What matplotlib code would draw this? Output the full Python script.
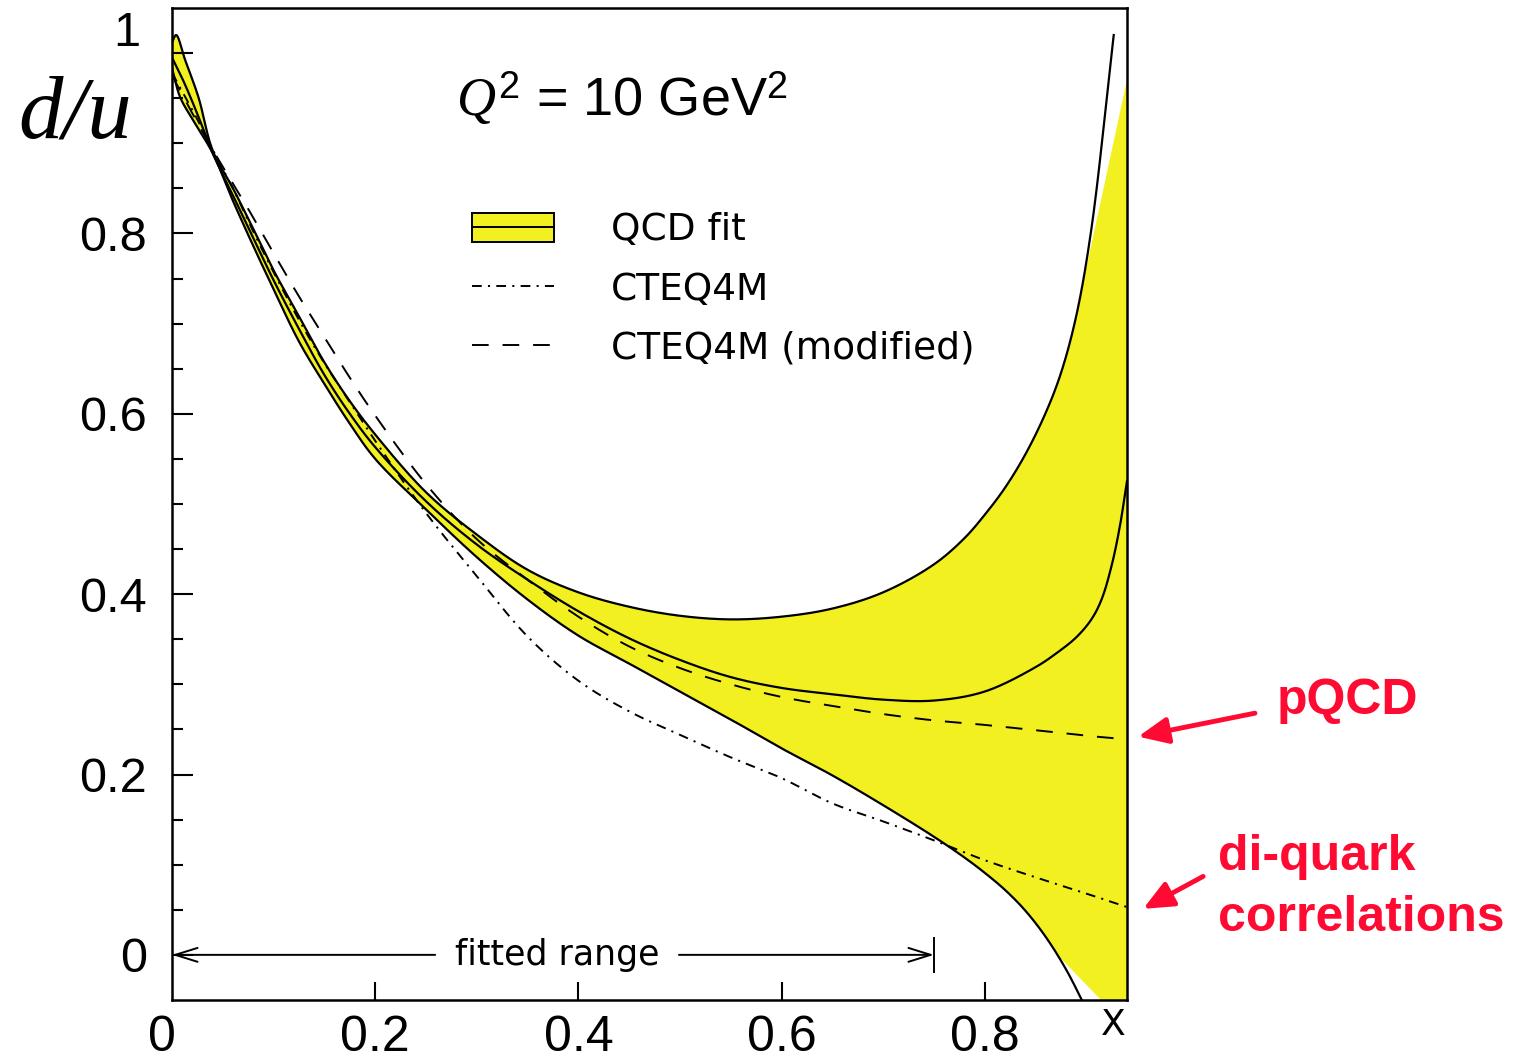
import numpy as np
import matplotlib
matplotlib.use("Agg")
import matplotlib.pyplot as plt
from matplotlib.patches import Patch
from matplotlib.lines import Line2D

plt.rcParams['lines.scale_dashes'] = False
plt.rcParams['mathtext.fontset'] = 'custom'
plt.rcParams['mathtext.it'] = 'Liberation Serif:italic'
plt.rcParams['mathtext.rm'] = 'Liberation Sans'

# ---- QCD fit: error band edges and central curve ----
hi_x = [0.0, 0.004, 0.013, 0.026, 0.04, 0.06, 0.08, 0.10, 0.125, 0.15, 0.175, 0.20, 0.25,
        0.30, 0.35, 0.40, 0.45, 0.50, 0.55, 0.60, 0.65, 0.70, 0.75, 0.78, 0.80, 0.82,
        0.84, 0.86, 0.875, 0.89, 0.905, 0.927]
hi_y = [1.012, 1.02, 0.992, 0.951, 0.892, 0.850, 0.805, 0.759, 0.708, 0.657, 0.614, 0.577,
        0.513, 0.466, 0.427, 0.402, 0.386, 0.376, 0.372, 0.375, 0.384, 0.402, 0.433, 0.462,
        0.488, 0.518, 0.555, 0.601, 0.645, 0.708, 0.805, 1.020]

lo_x = [0.0, 0.008, 0.021, 0.04, 0.06, 0.08, 0.10, 0.125, 0.15, 0.175, 0.20, 0.25, 0.30,
        0.35, 0.40, 0.45, 0.50, 0.55, 0.60, 0.65, 0.70, 0.75, 0.78, 0.80, 0.82, 0.84,
        0.86, 0.88, 0.90]
lo_y = [0.983, 0.951, 0.925, 0.889, 0.836, 0.786, 0.738, 0.680, 0.633, 0.589, 0.550, 0.494,
        0.441, 0.394, 0.354, 0.323, 0.292, 0.261, 0.229, 0.199, 0.166, 0.131, 0.108, 0.091,
        0.072, 0.049, 0.020, -0.016, -0.060]

mid_x = [0.0, 0.01, 0.02, 0.03, 0.04, 0.06, 0.08, 0.10, 0.125, 0.15, 0.175, 0.20, 0.25,
         0.30, 0.35, 0.40, 0.45, 0.50, 0.55, 0.60, 0.65, 0.70, 0.75, 0.80, 0.85, 0.87,
         0.89, 0.905, 0.915, 0.925, 0.933, 0.94]
mid_y = [0.995, 0.972, 0.946, 0.918, 0.889, 0.842, 0.795, 0.748, 0.694, 0.643, 0.600, 0.563,
         0.503, 0.455, 0.416, 0.381, 0.351, 0.327, 0.308, 0.296, 0.289, 0.283, 0.282, 0.292,
         0.319, 0.334, 0.352, 0.372, 0.394, 0.432, 0.475, 0.525]

# shaded polygon closes against the right frame
shade_hi_cut, shade_lo_cut = 0.895, 0.872
shade_edge_x, shade_edge_hi, shade_edge_lo = 0.94, 0.97, -0.08

# ---- CTEQ4M and modified CTEQ4M ----
std_x = [0.0, 0.02, 0.04, 0.06, 0.08, 0.10, 0.125, 0.15, 0.175, 0.20, 0.25, 0.30, 0.35,
         0.40, 0.45, 0.50, 0.55, 0.60, 0.65, 0.70, 0.75, 0.80, 0.85, 0.90, 0.94]
std_y = [0.978, 0.937, 0.893, 0.850, 0.802, 0.757, 0.704, 0.656, 0.613, 0.570, 0.490, 0.420,
         0.353, 0.304, 0.270, 0.244, 0.219, 0.196, 0.168, 0.148, 0.127, 0.105, 0.086, 0.068,
         0.053]

mod_x = [0.0, 0.02, 0.042, 0.074, 0.10, 0.125, 0.15, 0.175, 0.20, 0.25, 0.30, 0.35, 0.40,
         0.45, 0.50, 0.55, 0.60, 0.65, 0.70, 0.75, 0.80, 0.85, 0.90, 0.94]
mod_y = [0.975, 0.933, 0.889, 0.829, 0.778, 0.730, 0.685, 0.640, 0.598, 0.522, 0.461, 0.416,
         0.375, 0.342, 0.318, 0.300, 0.286, 0.276, 0.267, 0.260, 0.255, 0.249, 0.243, 0.239]

fit_range = (0.0, 0.75)
x_ticks = [0.2, 0.4, 0.6, 0.8]
x_ticklabels = ["0.2", "0.4", "0.6", "0.8"]
y_ticks = [0.0, 0.2, 0.4, 0.6, 0.8]
y_ticklabels = ["0", "0.2", "0.4", "0.6", "0.8"]

YELLOW = '#f2f020'
RED = '#ff0a32'
XLIM = (0.0, 0.94)
YLIM = (-0.05, 1.05)


def smooth(xs, ys, n=30):
    """Centripetal Catmull-Rom curve through the given points."""
    sx = XLIM[1] - XLIM[0]
    sy = YLIM[1] - YLIM[0]
    P = np.column_stack([np.asarray(xs) / sx, np.asarray(ys) / sy])
    P = np.vstack([2 * P[0] - P[1], P, 2 * P[-1] - P[-2]])
    out = []
    for i in range(1, len(P) - 2):
        p0, p1, p2, p3 = P[i - 1], P[i], P[i + 1], P[i + 2]
        t0 = 0.0
        t1 = t0 + np.linalg.norm(p1 - p0) ** 0.5
        t2 = t1 + np.linalg.norm(p2 - p1) ** 0.5
        t3 = t2 + np.linalg.norm(p3 - p2) ** 0.5
        t = np.linspace(t1, t2, n, endpoint=False)[:, None]
        A1 = (t1 - t) / (t1 - t0) * p0 + (t - t0) / (t1 - t0) * p1
        A2 = (t2 - t) / (t2 - t1) * p1 + (t - t1) / (t2 - t1) * p2
        A3 = (t3 - t) / (t3 - t2) * p2 + (t - t2) / (t3 - t2) * p3
        B1 = (t2 - t) / (t2 - t0) * A1 + (t - t0) / (t2 - t0) * A2
        B2 = (t3 - t) / (t3 - t1) * A2 + (t - t1) / (t3 - t1) * A3
        out.append((t2 - t) / (t2 - t1) * B1 + (t - t1) / (t2 - t1) * B2)
    out.append(P[-2][None, :])
    C = np.vstack(out)
    return C[:, 0] * sx, C[:, 1] * sy


fig = plt.figure(figsize=(15.32, 10.64), dpi=100)
ax = fig.add_axes([0.1123, 0.0602, 0.6233, 0.9323])
ax.set_xlim(*XLIM)
ax.set_ylim(*YLIM)

hx, hy = smooth(hi_x, hi_y)
lx, ly = smooth(lo_x, lo_y)
mx, my = smooth(mid_x, mid_y)
sx_, sy_ = smooth(std_x, std_y)
dx_, dy_ = smooth(mod_x, mod_y)

# yellow error band
up_m = hx <= shade_hi_cut
lo_m = lx <= shade_lo_cut
poly_x = np.concatenate([hx[up_m], [shade_edge_x, shade_edge_x], lx[lo_m][::-1]])
poly_y = np.concatenate([hy[up_m], [shade_edge_hi, shade_edge_lo], ly[lo_m][::-1]])
ax.fill(poly_x, poly_y, color=YELLOW, lw=0, zorder=1)

lw = 1.6
ax.plot(hx, hy, color='black', lw=lw, zorder=3)
ax.plot(lx, ly, color='black', lw=lw, zorder=3)
ax.plot(mx, my, color='black', lw=lw, zorder=3)
dashdot = (0, (7, 4.5, 1.5, 4.5))
dashed = (0, (12, 10))
ax.plot(sx_, sy_, color='black', lw=1.4, ls=dashdot, zorder=4)
ax.plot(dx_, dy_, color='black', lw=1.4, ls=dashed, zorder=4)

# frame and ticks
for s in ax.spines.values():
    s.set_linewidth(1.8)
ax.set_xticks(x_ticks)
ax.set_xticklabels(x_ticklabels)
ax.set_yticks(y_ticks + [1.0])
ax.set_yticklabels(y_ticklabels + [""])
ax.set_yticks(np.arange(0.05, 1.05, 0.05), minor=True)
ax.tick_params(axis='y', which='major', direction='in', length=15, width=1.5,
               pad=18, labelsize=35)
ax.tick_params(axis='y', which='minor', direction='in', length=8, width=1.5)
ax.tick_params(axis='x', which='major', direction='in', length=13, width=1.5,
               pad=11, labelsize=36)
ax.tick_params(axis='x', which='minor', length=0)
for lab in ax.get_xticklabels() + ax.get_yticklabels():
    lab.set_fontfamily('Liberation Sans')

# x = 0 label and the top "1" label
ax.annotate("0", xy=(0.0, 0.0), xycoords=('data', 'axes fraction'),
            xytext=(-7, -11), textcoords='offset points', ha='center', va='top',
            fontsize=36, family='Liberation Sans', annotation_clip=False)
ax.annotate("1", xy=(0.0, 1.0), xycoords=('axes fraction', 'data'),
            xytext=(-23, 14), textcoords='offset points', ha='right', va='center',
            fontsize=35, family='Liberation Sans', annotation_clip=False)

# x-axis title at the right end, just under the frame
ax.annotate("X", xy=(1.0, 0.0), xycoords='axes fraction', xytext=(-1, -6),
            textcoords='offset points', ha='right', va='top', fontsize=26,
            family='DejaVu Sans', annotation_clip=False)
ax.text(-0.095, 0.93, "d/u", fontsize=64, family='Liberation Serif', style='italic',
        ha='center', va='center', clip_on=False)

ax.text(0.443, 0.95, r"$Q^2$ = 10 GeV$^2$", fontsize=39, family='Liberation Sans',
        ha='center', va='center')

# fitted range marker
gap_l, gap_r = 0.259, 0.499
arrow_kw = dict(arrowstyle='->,head_length=0.8,head_width=0.25', color='black',
                lw=1.4, mutation_scale=20, shrinkA=0, shrinkB=0)
ax.annotate("", xy=(fit_range[0], 0.0), xytext=(gap_l, 0.0), arrowprops=arrow_kw)
ax.annotate("", xy=(fit_range[1], 0.0), xytext=(gap_r, 0.0), arrowprops=arrow_kw)
ax.plot([fit_range[1], fit_range[1]], [-0.019, 0.019], color='black', lw=1.4)
ax.text((gap_l + gap_r) / 2, 0.0, "fitted range", fontsize=25, family='DejaVu Sans',
        ha='center', va='center')

# legend
h_fit = (Patch(facecolor=YELLOW, edgecolor='black', lw=1.4),
         Line2D([], [], color='black', lw=1.4))
h_std = Line2D([], [], color='black', lw=1.4, ls=dashdot)
h_mod = Line2D([], [], color='black', lw=1.4, ls=dashed)
leg = ax.legend([h_fit, h_std, h_mod], ["QCD fit", "CTEQ4M", "CTEQ4M (modified)"],
                loc='upper left', bbox_to_anchor=(0.314, 0.794), frameon=False,
                prop={'family': 'DejaVu Sans', 'size': 27}, handlelength=2.2,
                handleheight=0.82, handletextpad=1.5, labelspacing=0.62, borderpad=0,
                borderaxespad=0)

# annotations outside the frame
ax.annotate("", xy=(0.951, 0.242), xytext=(1.066, 0.268),
            arrowprops=dict(arrowstyle='-|>,head_length=0.9,head_width=0.4',
                            color=RED, lw=3.5, mutation_scale=20, shrinkA=0, shrinkB=0),
            annotation_clip=False)
ax.annotate("", xy=(0.956, 0.051), xytext=(1.015, 0.087),
            arrowprops=dict(arrowstyle='-|>,head_length=0.9,head_width=0.4',
                            color=RED, lw=3.5, mutation_scale=20, shrinkA=0, shrinkB=0),
            annotation_clip=False)
ax.text(1.087, 0.267, "pQCD", fontsize=36, family='Liberation Sans', weight='bold',
        color=RED, ha='left', va='baseline', clip_on=False)
ax.text(1.030, 0.094, "di-quark", fontsize=36, family='Liberation Sans', weight='bold',
        color=RED, ha='left', va='baseline', clip_on=False)
ax.text(1.030, 0.026, "correlations", fontsize=36, family='Liberation Sans',
        weight='bold', color=RED, ha='left', va='baseline', clip_on=False)

fig.savefig("out.png", dpi=100)
